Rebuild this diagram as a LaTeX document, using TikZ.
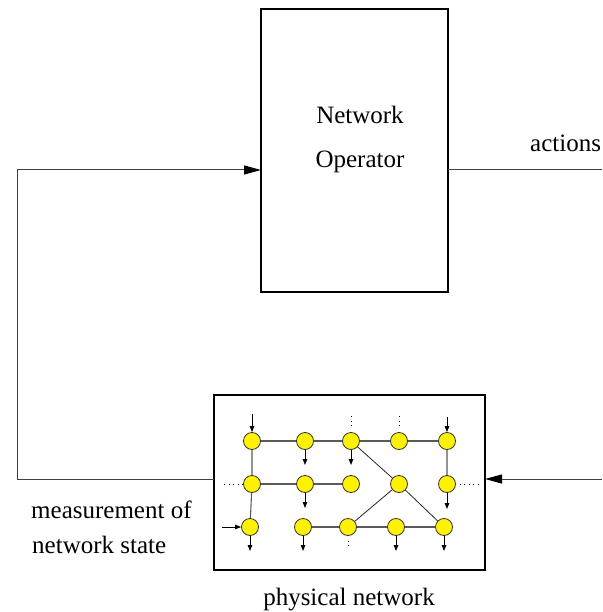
\documentclass[tikz,border=0pt]{standalone}
\usepackage{fontspec}
\setmainfont{Liberation Serif}
\usetikzlibrary{arrows.meta}
\begin{document}
\begin{tikzpicture}[x=1pt,y=-1pt,
  lbl/.style={font=\fontsize{25}{30}\selectfont, inner sep=0pt},
  block/.style={draw=black, line width=1.8pt, fill=none, inner sep=0pt},
  conn/.style={draw=black!75, line width=1pt},
  bigtip/.style={-{Triangle[length=17pt,width=9pt,black]}},
  site/.style={circle, draw=black!80, line width=0.8pt, fill=yellow, minimum size=17pt, inner sep=0pt},
  link/.style={draw=black!65, line width=1.1pt},
  flow/.style={draw=black, line width=0.9pt, -{Triangle[length=6pt,width=4.5pt]}},
  dotflow/.style={draw=black, line width=0.9pt, dash pattern=on 1pt off 3.5pt}
]
\useasboundingbox (0,0) rectangle (602,612);

% operator block
\draw[block] (261,9) rectangle (448,292);
\coordinate (opW) at (261,170);
\coordinate (opE) at (448,170);
\node[lbl] (t1) at (360,115) {Network};
\node[lbl] (t2) at (360,162) {Operator};

% physical network block
\draw[block] (214,395) rectangle (485,570);
\coordinate (pnW) at (214,479);
\coordinate (pnE) at (485,479);

% feedback loop
\coordinate (fbA) at (17,479);
\coordinate (fbB) at (17,170);
\draw[conn, bigtip] (pnW) -- (fbA) -- (fbB) -- (opW);

% actions
\coordinate (actR) at (602,170);
\draw[conn] (opE) -- (actR);
\coordinate (inR) at (602,479);
\draw[conn, bigtip] (inR) -- (pnE);

\node[lbl, anchor=west] (act) at (530,143) {actions};
\node[lbl, anchor=west] (m1) at (31,510) {measurement of};
\node[lbl, anchor=west] (m2) at (32,545) {network state};
\node[lbl] (pn) at (349,600) {physical network};

% sites of the physical network
\node[site] (a1) at (252,441) {};
\node[site] (a2) at (305,441) {};
\node[site] (a3) at (351,441) {};
\node[site] (a4) at (399,441) {};
\node[site] (a5) at (447,441) {};
\node[site] (b1) at (252,484) {};
\node[site] (b2) at (305,484) {};
\node[site] (b3) at (351,484) {};
\node[site] (b4) at (399,484) {};
\node[site] (b5) at (447,484) {};
\node[site] (c1) at (250,527) {};
\node[site] (c2) at (303,527) {};
\node[site] (c3) at (348,527) {};
\node[site] (c4) at (396,527) {};
\node[site] (c5) at (444,527) {};

% links
\draw[link] (a1) -- (a2) (a2) -- (a3) (a3) -- (a4) (a4) -- (a5);
\draw[link] (a1) -- (b1) (b1) -- (c1) (a5) -- (b5);
\draw[link] (b1) -- (b2) (b2) -- (b3);
\draw[link] (c2) -- (c3) (c3) -- (c4) (c4) -- (c5);
\draw[link, draw=black!85, line width=0.8pt] (a3) -- (b4) (b4) -- (c3) (b4) -- (c5);

% inflows and outflows
\coordinate (ia1) at (252,414);
\coordinate (ia5) at (447,417);
\draw[flow] (ia1) -- (a1.north);
\draw[flow] (ia5) -- (a5.north);
\coordinate (ic1) at (222,527);
\draw[flow] (ic1) -- (c1.west);

\coordinate (oa2) at (305,465);
\coordinate (oa3) at (351,465);
\coordinate (ob2) at (305,508);
\coordinate (ob5) at (447,509);
\coordinate (oc1) at (250,551);
\coordinate (oc2) at (303,551);
\coordinate (oc4) at (396,551);
\coordinate (oc5) at (444,551);
\draw[flow] (a2.south) -- (oa2);
\draw[flow] (a3.south) -- (oa3);
\draw[flow] (b2.south) -- (ob2);
\draw[flow] (b5.south) -- (ob5);
\draw[flow] (c1.south) -- (oc1);
\draw[flow] (c2.south) -- (oc2);
\draw[flow] (c4.south) -- (oc4);
\draw[flow] (c5.south) -- (oc5);

% continuation marks
\coordinate (da3) at (351,416);
\coordinate (da4) at (399,416);
\coordinate (db1) at (224,484);
\coordinate (db5) at (478,484);
\coordinate (dc3) at (348,549);
\draw[dotflow] (da3) -- ++(0,10);
\draw[dotflow] (da4) -- ++(0,10);
\draw[dotflow] (db1) -- (b1.west);
\draw[dotflow] (b5.east) ++(4,0) -- (db5);
\draw[dotflow] (c3.south) ++(0,5) -- (dc3);
\end{tikzpicture}
\end{document}
